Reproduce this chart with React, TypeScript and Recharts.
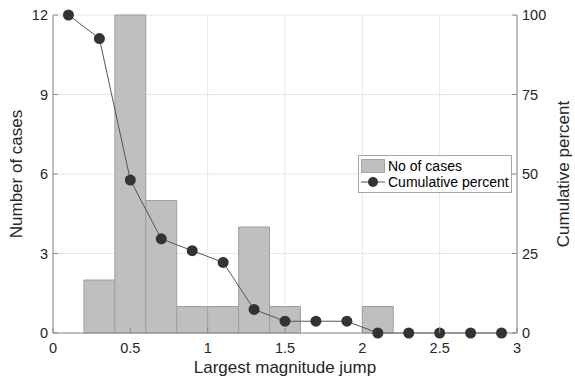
import React from "react";
import {
  ComposedChart,
  Bar,
  Line,
  XAxis,
  YAxis,
  CartesianGrid,
  Legend,
  Label,
} from "recharts";

// bin centres (width 0.2)
const binCenters = [0.1, 0.3, 0.5, 0.7, 0.9, 1.1, 1.3, 1.5, 1.7, 1.9, 2.1, 2.3, 2.5, 2.7, 2.9];
const noOfCases = [0, 2, 12, 5, 1, 1, 4, 1, 0, 0, 1, 0, 0, 0, 0];
const cumulativePercent = [100, 92.6, 48.1, 29.6, 25.9, 22.2, 7.4, 3.7, 3.7, 3.7, 0, 0, 0, 0, 0];

const xTicks = [0, 0.5, 1, 1.5, 2, 2.5, 3];
const leftTicks = [0, 3, 6, 9, 12];
const rightTicks = [0, 25, 50, 75, 100];

const data = binCenters.map((x, i) => ({
  x,
  cases: noOfCases[i],
  percent: cumulativePercent[i],
}));

const FONT = '"Liberation Sans", Arial, Helvetica, sans-serif';
const TEXT = "#262626";
const AXIS = "#8c8c8c";
const TICK_LEN = 5;

const BottomTick = (props: any) => {
  const { x, y, payload } = props;
  return (
    <g>
      <line x1={x} y1={y} x2={x} y2={y - TICK_LEN} stroke={AXIS} />
      <text x={x} y={y + 20} textAnchor="middle" fontSize={14.5} fontFamily={FONT} fill={TEXT}>
        {payload.value}
      </text>
    </g>
  );
};

const TopTick = (props: any) => {
  const { x, y } = props;
  return <line x1={x} y1={y} x2={x} y2={y + TICK_LEN} stroke={AXIS} />;
};

const LeftTick = (props: any) => {
  const { x, y, payload } = props;
  return (
    <g>
      <line x1={x} y1={y} x2={x + TICK_LEN} y2={y} stroke={AXIS} />
      <text x={x - 5} y={y + 5} textAnchor="end" fontSize={14.5} fontFamily={FONT} fill={TEXT}>
        {payload.value}
      </text>
    </g>
  );
};

const RightTick = (props: any) => {
  const { x, y, payload } = props;
  return (
    <g>
      <line x1={x} y1={y} x2={x - TICK_LEN} y2={y} stroke={AXIS} />
      <text x={x + 5} y={y + 5} textAnchor="start" fontSize={14.5} fontFamily={FONT} fill={TEXT}>
        {payload.value}
      </text>
    </g>
  );
};

const renderLegend = (props: any) => {
  const { payload = [] } = props;
  // bars first, then the line, like the original
  const items = [...payload].sort(
    (a: any, b: any) => (a.type === "rect" ? 0 : 1) - (b.type === "rect" ? 0 : 1),
  );
  return (
    <div
      style={{
        width: 154,
        height: 38,
        boxSizing: "border-box",
        border: "1px solid #a6a6a6",
        background: "#fff",
        paddingTop: 2,
        fontFamily: FONT,
        fontSize: 14,
        color: "#000",
      }}
    >
      {items.map((item: any) => (
        <div key={item.value} style={{ display: "flex", alignItems: "center", height: 16 }}>
          <svg width={28} height={16} style={{ flex: "none" }}>
            {item.type === "rect" ? (
              <rect x={2.5} y={1.5} width={23} height={13} fill="#bfbfbf" stroke="#a6a6a6" />
            ) : (
              <g>
                <line x1={2} y1={8} x2={26} y2={8} stroke="#555" />
                <circle cx={14} cy={8} r={5} fill="#333" />
              </g>
            )}
          </svg>
          <span style={{ marginLeft: 1, whiteSpace: "nowrap" }}>{item.value}</span>
        </div>
      ))}
    </div>
  );
};

export default function App() {
  return (
    <div>
      <style>{`body{margin:0}`}</style>
      <ComposedChart
        width={575}
        height={379}
        data={data}
        margin={{ top: 15, right: 0, bottom: 0, left: 0 }}
      >
        <CartesianGrid xAxisId="bottom" yAxisId="left" stroke="#e6e6e6" />
        <XAxis
          xAxisId="bottom"
          dataKey="x"
          type="number"
          domain={[0, 3]}
          ticks={xTicks}
          interval={0}
          allowDataOverflow
          height={46}
          tickSize={0}
          tickMargin={0}
          tickLine={false}
          tick={<BottomTick />}
          axisLine={{ stroke: AXIS }}
        >
          <Label
            content={({ viewBox }: any) => (
              <text
                x={viewBox.x + viewBox.width / 2}
                y={viewBox.y + 40}
                textAnchor="middle"
                fontSize={17}
                fontFamily={FONT}
                fill={TEXT}
              >
                Largest magnitude jump
              </text>
            )}
          />
        </XAxis>
        <XAxis
          xAxisId="top"
          orientation="top"
          dataKey="x"
          type="number"
          domain={[0, 3]}
          ticks={xTicks}
          interval={0}
          allowDataOverflow
          height={0}
          tickSize={0}
          tickMargin={0}
          tickLine={false}
          tick={<TopTick />}
          axisLine={{ stroke: AXIS }}
        />
        <YAxis
          yAxisId="left"
          orientation="left"
          type="number"
          domain={[0, 12]}
          ticks={leftTicks}
          interval={0}
          width={53}
          tickSize={0}
          tickMargin={0}
          tickLine={false}
          tick={<LeftTick />}
          axisLine={{ stroke: AXIS }}
        >
          <Label
            content={({ viewBox }: any) => (
              <text
                transform={`translate(${viewBox.x + 22}, ${viewBox.y + viewBox.height / 2}) rotate(-90)`}
                textAnchor="middle"
                fontSize={17}
                fontFamily={FONT}
                fill={TEXT}
              >
                Number of cases
              </text>
            )}
          />
        </YAxis>
        <YAxis
          yAxisId="right"
          orientation="right"
          type="number"
          domain={[0, 100]}
          ticks={rightTicks}
          interval={0}
          width={58}
          tickSize={0}
          tickMargin={0}
          tickLine={false}
          tick={<RightTick />}
          axisLine={{ stroke: AXIS }}
        >
          <Label
            content={({ viewBox }: any) => (
              <text
                transform={`translate(${viewBox.x + 52}, ${viewBox.y + viewBox.height / 2}) rotate(-90)`}
                textAnchor="middle"
                fontSize={17}
                fontFamily={FONT}
                fill={TEXT}
              >
                Cumulative percent
              </text>
            )}
          />
        </YAxis>
        <Legend
          layout="vertical"
          align="center"
          verticalAlign="middle"
          wrapperStyle={{ left: 358, top: 155, width: "auto" }}
          content={renderLegend}
        />
        <Bar
          xAxisId="bottom"
          yAxisId="left"
          dataKey="cases"
          name="No of cases"
          legendType="rect"
          barSize={30.9}
          fill="#bfbfbf"
          stroke="#9e9e9e"
          isAnimationActive={false}
        />
        <Line
          xAxisId="bottom"
          yAxisId="right"
          dataKey="percent"
          name="Cumulative percent"
          legendType="line"
          type="linear"
          stroke="#555"
          strokeWidth={1}
          dot={{ r: 5.5, fill: "#333", stroke: "#333", strokeWidth: 0 }}
          activeDot={false}
          isAnimationActive={false}
        />
      </ComposedChart>
    </div>
  );
}
